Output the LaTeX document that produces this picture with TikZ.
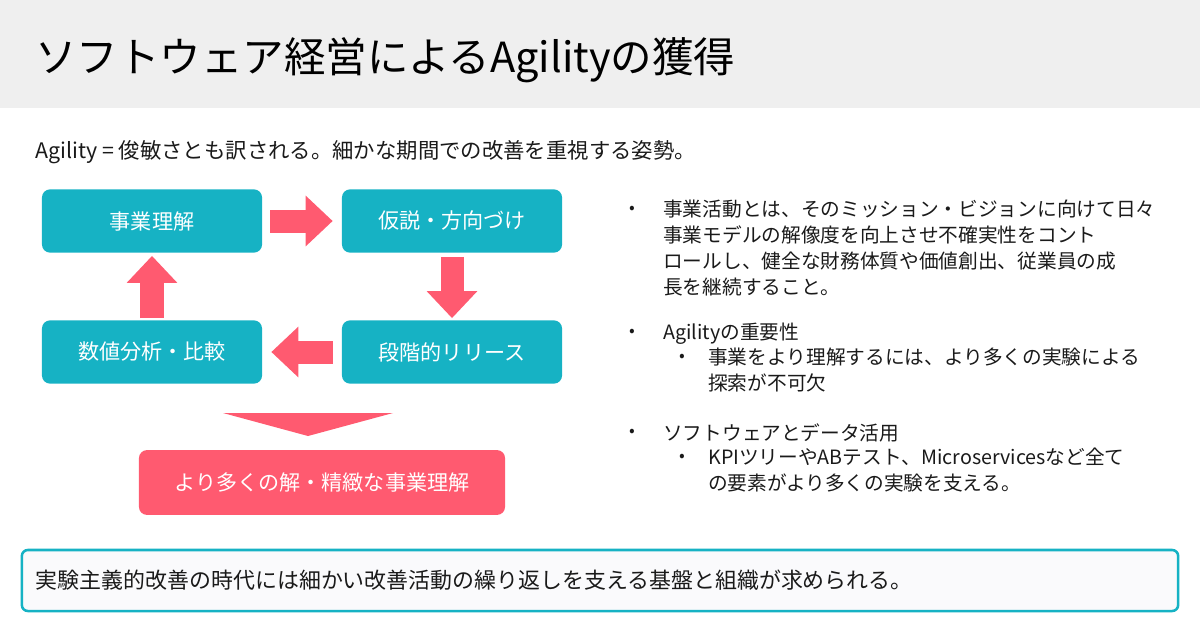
\documentclass[tikz,border=0pt]{standalone}
\usepackage{fontspec}
\setmainfont{Noto Sans CJK JP}
\usetikzlibrary{arrows.meta, positioning}
\definecolor{SlideTeal}{RGB}{22, 178, 196}
\definecolor{SlidePink}{RGB}{255, 90, 112}
\definecolor{BandGray}{RGB}{239, 239, 239}
\definecolor{InkGray}{RGB}{26, 26, 26}
\definecolor{PaleFill}{RGB}{250, 250, 252}

\begin{document}
\begin{tikzpicture}[x=0.025cm, y=-0.025cm,
    stepbox/.style={rectangle, rounded corners=0.2cm, fill=SlideTeal, text=white, minimum width=5.5cm, minimum height=1.58cm, inner sep=0pt, font=\fontsize{15}{18}\selectfont},
    resultbox/.style={rectangle, rounded corners=0.2cm, fill=SlidePink, text=white, minimum width=9.15cm, minimum height=1.62cm, inner sep=0pt, font=\fontsize{15}{18}\selectfont},
    blockarrow/.style={draw=SlidePink, line width=0.575cm, -{Triangle[width=1.225cm, length=0.675cm]}},
    note/.style={anchor=north west, inner sep=0pt, align=left, text=InkGray, font=\fontsize{14}{18.5}\selectfont},
    bulletmark/.style={anchor=center, inner sep=0pt, text=InkGray, font=\fontsize{12}{14}\selectfont}
]
    \useasboundingbox (0,0) rectangle (1200,626);
    \fill[BandGray] (0,0) rectangle (1200,108);

    \node[anchor=west, inner sep=0pt, text=black, font=\fontsize{29.5}{35}\selectfont] (title) at (35,60) {ソフトウェア経営によるAgilityの獲得};
    \node[anchor=west, inner sep=0pt, text=InkGray, font=\fontsize{15.2}{18}\selectfont] (lead) at (35,152) {Agility = 俊敏さとも訳される。細かな期間での改善を重視する姿勢。};

    % cycle
    \node[stepbox] (biz) at (152,221) {事業理解};
    \node[stepbox] (hyp) at (452,221) {仮説・方向づけ};
    \node[stepbox] (release) at (452,352) {段階的リリース};
    \node[stepbox] (analysis) at (152,352) {数値分析・比較};

    \draw[blockarrow, shorten <=0.2cm, shorten >=0.225cm] (biz) -- (hyp);
    \draw[blockarrow, shorten <=0.1cm, shorten >=0.05cm] (hyp) -- (release);
    \draw[blockarrow, shorten <=0.225cm, shorten >=0.225cm] (release) -- (analysis);
    \draw[blockarrow, shorten <=0.05cm, shorten >=0.075cm] (analysis) -- (biz);

    % result
    \fill[SlidePink] (223,413) -- (393,413) -- (308,436) -- cycle;
    \node[resultbox] (result) at (322,482.5) {より多くの解・精緻な事業理解};

    % notes
    \node[bulletmark] (m1) at (632,210) {•};
    \node[note] (activity) at (663,200) {事業活動とは、そのミッション・ビジョンに向けて日々\\事業モデルの解像度を向上させ不確実性をコント\\ロールし、健全な財務体質や価値創出、従業員の成\\長を継続すること。};
    \node[bulletmark] (m2) at (632,333) {•};
    \node[note] (agility) at (663,323) {Agilityの重要性};
    \node[bulletmark] (m21) at (682,358) {•};
    \node[note] (explore) at (708,348) {事業をより理解するには、より多くの実験による\\探索が不可欠};
    \node[bulletmark] (m3) at (632,433) {•};
    \node[note] (data) at (663,423) {ソフトウェアとデータ活用};
    \node[bulletmark] (m31) at (682,458) {•};
    \node[note] (kpi) at (708,448) {KPIツリーやABテスト、Microservicesなど全て\\の要素がより多くの実験を支える。};

    % summary
    \node[rectangle, rounded corners=0.15cm, draw=SlideTeal, line width=1.8pt, fill=PaleFill, minimum width=28.9cm, minimum height=1.525cm, text width=28.2cm, inner xsep=0.35cm, align=left, text=InkGray, font=\fontsize{15.6}{18}\selectfont] (summary) at (600,580.5) {実験主義的改善の時代には細かい改善活動の繰り返しを支える基盤と組織が求められる。};
\end{tikzpicture}
\end{document}
